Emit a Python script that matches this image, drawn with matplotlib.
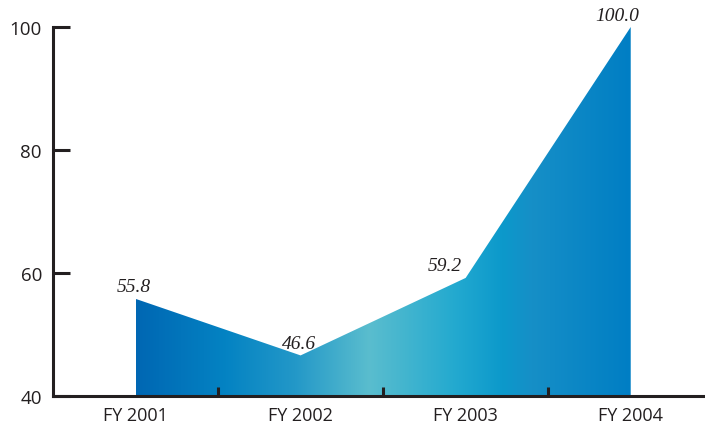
import matplotlib.pyplot as plt
import numpy as np
from matplotlib.colors import LinearSegmentedColormap

years = ["FY 2001", "FY 2002", "FY 2003", "FY 2004"]
values = [55.8, 46.6, 59.2, 100.0]
y_ticks = [40, 60, 80, 100]

# label nudges (points) so the numbers sit like the original
label_dx = [-1, -1, -15, -10]

ink = "#231F20"
grad = LinearSegmentedColormap.from_list(
    "fy",
    [
        (0.0, "#0067B3"),
        (0.18, "#0483C3"),
        (0.32, "#2398C8"),
        (0.47, "#5ABDCE"),
        (0.64, "#24AAD0"),
        (0.74, "#0C99CB"),
        (0.8, "#168FC7"),
        (1.0, "#007EC4"),
    ],
)

fig = plt.figure(figsize=(7.05, 4.27), dpi=100)
ax = fig.add_axes([53 / 705, 1 - 397 / 427, 1 - 53 / 705, (397 - 28) / 427])

x = np.arange(len(years))
poly = ax.fill_between(x, 40, values, color="none", lw=0)
img = ax.imshow(
    np.linspace(0, 1, 256).reshape(1, -1),
    cmap=grad,
    aspect="auto",
    extent=[x[0], x[-1], 40, 100],
    origin="lower",
    zorder=1,
)
path = poly.get_paths()[0]
img.set_clip_path(path, ax.transData)

for xi, v, dx in zip(x, values, label_dx):
    ax.annotate(
        f"{v:.1f}",
        (xi, v),
        xytext=(dx, 2.5),
        textcoords="offset points",
        ha="center",
        va="bottom",
        fontsize=14,
        family="Liberation Serif",
        style="italic",
        color=ink,
    )

ax.set_xlim(-0.5, 3.45)
ax.set_ylim(40, 100)
ax.set_xticks(x)
ax.set_xticklabels(years, fontsize=13, family="Open Sans", color=ink)
ax.set_xticks([0.5, 1.5, 2.5], minor=True)
ax.set_yticks(y_ticks)
ax.set_yticklabels([str(t) for t in y_ticks], fontsize=13.5, family="Open Sans", color=ink)

ax.tick_params(axis="x", which="major", length=0, pad=7)
ax.tick_params(axis="x", which="minor", direction="in", length=6.5, width=2.2, color=ink)
ax.tick_params(axis="y", direction="in", length=12, width=2.2, color=ink, pad=8)

for side in ["top", "right"]:
    ax.spines[side].set_visible(False)
for side in ["left", "bottom"]:
    ax.spines[side].set_linewidth(2.2)
    ax.spines[side].set_color(ink)
    ax.spines[side].set_zorder(3)

plt.savefig("out.png", dpi=100)
